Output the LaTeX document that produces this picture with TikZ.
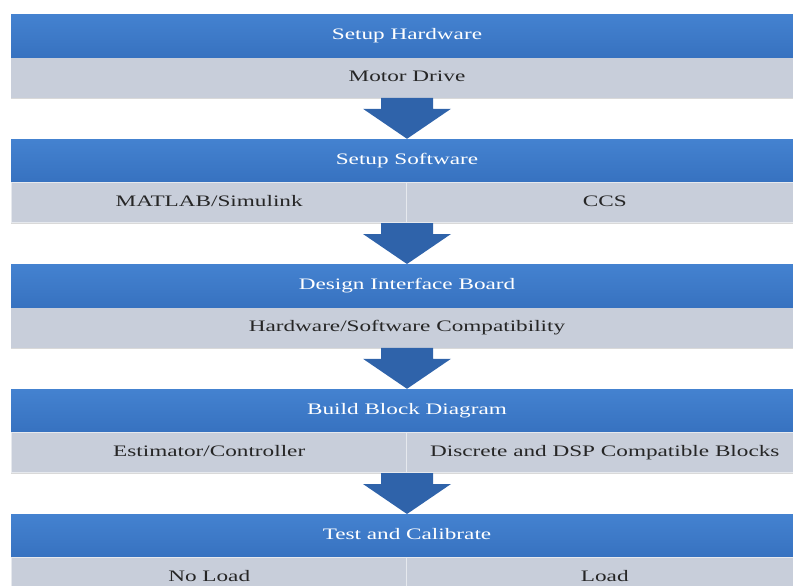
\documentclass[tikz,border=0pt]{standalone}
\usepackage{fontspec}
\setmainfont{Liberation Serif}[FakeStretch=1.45]
\usetikzlibrary{positioning}
\usetikzlibrary{shadows}

\definecolor{headtop}{HTML}{4482D0}
\definecolor{headblue}{HTML}{3772C0}
\definecolor{subgray}{HTML}{C8CEDA}
\definecolor{arrowblue}{HTML}{2F63AA}

\tikzset{
  stage/.style={minimum width=792pt, minimum height=43pt, inner sep=0pt,
    text height=11pt, text depth=3.5pt,
    top color=headtop, bottom color=headblue, text=white,
    font=\fontsize{16}{19}\selectfont},
  task/.style={minimum width=792pt, minimum height=40pt, inner sep=0pt,
    text height=11pt, text depth=3.5pt,
    fill=subgray, text=black!85, font=\fontsize{16}{19}\selectfont,
    drop shadow={shadow xshift=0pt, shadow yshift=-1.5pt, opacity=0.3}},
  halftask/.style={task, minimum width=396pt, draw=white!55!subgray, line width=0.8pt},
  flow/.style={fill=arrowblue}
}

\begin{document}
\begin{tikzpicture}[x=1pt, y=-1pt]
    \useasboundingbox (0,0) rectangle (793,586);

    % stage 1
    \node[stage] (h1) at (407,14) [anchor=north] {Setup Hardware};
    \node[task, below=0pt of h1] (t1) {Motor Drive};

    % stage 2
    \node[stage, below=41pt of t1] (h2) {Setup Software};
    \node[halftask, anchor=north west] (t2) at (h2.south west) {MATLAB/Simulink};
    \node[halftask, anchor=north east] (t2r) at (h2.south east) {CCS};

    % stage 3
    \node[stage, below=41pt of t2.south -| h2.south, anchor=north] (h3) {Design Interface Board};
    \node[task, below=0pt of h3] (t3) {Hardware/Software Compatibility};

    % stage 4
    \node[stage, below=41pt of t3] (h4) {Build Block Diagram};
    \node[halftask, anchor=north west] (t4) at (h4.south west) {Estimator/Controller};
    \node[halftask, anchor=north east] (t4r) at (h4.south east) {Discrete and DSP Compatible Blocks};

    % stage 5
    \node[stage, below=41pt of t4.south -| h4.south, anchor=north] (h5) {Test and Calibrate};
    \node[halftask, anchor=north west] (t5) at (h5.south west) {No Load};
    \node[halftask, anchor=north east] (t5r) at (h5.south east) {Load};

    % block arrows between the stages
    \foreach \a/\b in {1/2, 2/3, 3/4, 4/5}
        \fill[flow] ([xshift=-26pt]h\a.south |- t\a.south) -- ++(0,11) -- ++(-18,0)
            -- (h\b.north) -- ++(44,-30) -- ++(-18,0) -- ++(0,-11) -- cycle;
\end{tikzpicture}
\end{document}
